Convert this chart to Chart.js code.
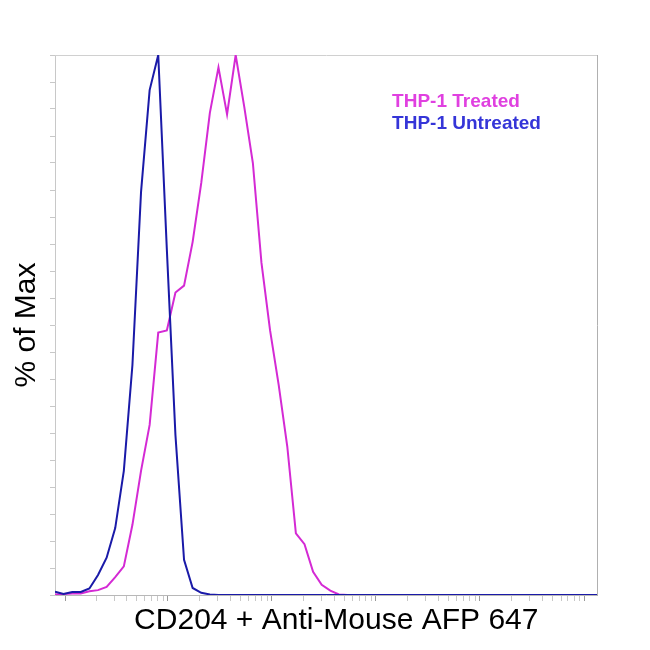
<!DOCTYPE html>
<html>
<head>
<meta charset="utf-8">
<script src="https://cdn.jsdelivr.net/npm/chart.js@4"></script>
<style>
  html, body { margin: 0; padding: 0; background: #fff; }
  #wrap { width: 650px; height: 650px; }
</style>
</head>
<body>
<div id="wrap"><canvas id="histChart"></canvas></div>
<script>
// histogram bins (channel index) and % of max per bin
const bins = [];
for (let i = 0; i < 64; i++) bins.push(i);

const untreated = [0.6, 0.2, 0.55, 0.55, 1.2, 3.7, 6.9, 12.4, 23, 42.6,
  74.6, 93.5, 100, 64, 29.6, 6.5, 1.3, 0.4, 0.1, 0,
  0, 0, 0, 0, 0, 0, 0, 0, 0, 0,
  0, 0, 0, 0, 0, 0, 0, 0, 0, 0,
  0, 0, 0, 0, 0, 0, 0, 0, 0, 0,
  0, 0, 0, 0, 0, 0, 0, 0, 0, 0,
  0, 0, 0, 0];

const treated = [0.1, 0.2, 0.3, 0.3, 0.7, 0.9, 1.5, 3.3, 5.3, 13,
  23, 31.5, 48.6, 49, 56, 57.3, 65.4, 76.3, 89.3, 97.7,
  89, 100, 90.4, 80, 61.5, 49, 38.9, 27.5, 11.4, 9.4,
  4.3, 1.9, 0.8, 0.1, 0, 0, 0, 0, 0, 0,
  0, 0, 0, 0, 0, 0, 0, 0, 0, 0,
  0, 0, 0, 0, 0, 0, 0, 0, 0, 0,
  0, 0, 0, 0];

// log axis decades (in channel units) and minor multipliers
const decadeTicks = [1.2, 13.1, 25.2, 37.3, 49.4, 61.5];
const minorSteps = [2, 3, 4, 5, 6, 7, 8, 9];

const seriesNames = ["THP-1 Treated", "THP-1 Untreated"];
const seriesText = ["#e040e0", "#3535d8"];
const xTitle = "CD204 + Anti-Mouse AFP 647";

const xTickValues = [];
decadeTicks.forEach((d, i) => {
  xTickValues.push(d);
  const next = decadeTicks[i + 1];
  if (next === undefined) return;
  minorSteps.forEach(m => xTickValues.push(d + (next - d) * Math.log10(m)));
});

const FONT = "'Liberation Sans', Arial, sans-serif";

// legend text and x title, placed relative to the plot area
const textLayer = {
  id: "textLayer",
  afterDraw(chart) {
    const { ctx, chartArea } = chart;
    const w = chartArea.right - chartArea.left;
    ctx.save();
    ctx.font = "bold 19px " + FONT;
    ctx.textBaseline = "middle";
    const x = chartArea.left + w * 0.622;
    seriesNames.forEach((name, i) => {
      ctx.fillStyle = seriesText[i];
      ctx.fillText(name, x, chartArea.top + 47 + i * 22);
    });
    ctx.font = "30px " + FONT;
    ctx.fillStyle = "#000";
    ctx.textAlign = "center";
    ctx.fillText(xTitle, chartArea.left + w * 0.519, chartArea.bottom + 26);
    ctx.restore();
  }
};

const ctx = document.getElementById("histChart").getContext("2d");

new Chart(ctx, {
  type: "line",
  data: {
    datasets: [
      {
        label: "THP-1 Untreated",
        data: bins.map((b, i) => ({ x: b, y: untreated[i] })),
        borderColor: "#1a1aa8",
        borderWidth: 2,
        pointRadius: 0,
        tension: 0,
      },
      {
        label: "THP-1 Treated",
        data: bins.map((b, i) => ({ x: b, y: treated[i] })),
        borderColor: "#d42ad4",
        borderWidth: 2,
        pointRadius: 0,
        tension: 0,
      },
    ],
  },
  options: {
    responsive: true,
    maintainAspectRatio: false,
    animation: false,
    layout: { padding: { left: 9, top: 55, right: 53, bottom: 49 } },
    plugins: {
      legend: { display: false },
      tooltip: { enabled: false },
    },
    scales: {
      x: {
        type: "linear",
        min: 0,
        max: 63,
        afterBuildTicks: (scale) => {
          scale.ticks = xTickValues.map(v => ({ value: v }));
        },
        ticks: { display: false },
        grid: {
          drawOnChartArea: false,
          tickLength: 6,
          color: (c) => (c.tick && decadeTicks.includes(c.tick.value) ? "#999" : "#c8c8c8"),
        },
        border: { color: "#b8b8b8" },
      },
      y: {
        min: 0,
        max: 100,
        ticks: { display: false, stepSize: 5 },
        grid: { drawOnChartArea: false, tickLength: 5, color: "#c8c8c8" },
        border: { color: "#c8c8c8" },
        title: {
          display: true,
          text: "% of Max",
          color: "#000",
          font: { family: FONT, size: 30 },
          padding: { top: 0, bottom: 5 },
        },
      },
      xTop: {
        type: "linear",
        position: "top",
        min: 0,
        max: 1,
        ticks: { display: false },
        grid: { display: false, drawTicks: false },
        border: { color: "#d0d0d0" },
      },
      yRight: {
        type: "linear",
        position: "right",
        min: 0,
        max: 1,
        ticks: { display: false },
        grid: { display: false, drawTicks: false },
        border: { color: "#b0b0b0" },
      },
    },
  },
  plugins: [textLayer],
});
</script>
</body>
</html>
